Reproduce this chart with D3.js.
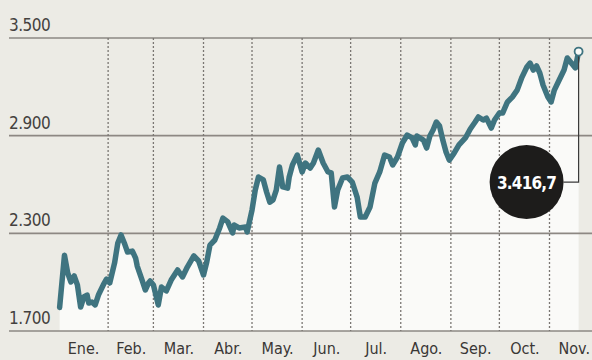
<!DOCTYPE html>
<html>
<head>
<meta charset="utf-8">
<script src="https://cdn.jsdelivr.net/npm/d3@7/dist/d3.min.js"></script>
<style>
  html, body { margin: 0; padding: 0; background: #ecebe5; }
  svg { display: block; }
  text { font-family: "Liberation Sans Narrow", "DejaVu Sans Condensed", sans-serif; }
</style>
</head>
<body>
<svg id="chart" width="592" height="360"></svg>
<script>
// Datos (indice, cierre diario aprox.)
var meses = ['Ene.', 'Feb.', 'Mar.', 'Abr.', 'May.', 'Jun.', 'Jul.', 'Ago.', 'Sep.', 'Oct.', 'Nov.'];
var ticksY = [1700, 2300, 2900, 3500];
var ultimoValor = 3416.7;

var fechas = [
  '01-02', '01-05', '01-07', '01-09', '01-11', '01-13', '01-15', '01-17', '01-19', '01-20',
  '01-22', '01-24', '01-26', '01-29', '01-31', '02-02', '02-05', '02-07', '02-09', '02-11',
  '02-13', '02-16', '02-18', '02-19', '02-22', '02-24', '02-26', '02-27', '03-01', '03-04',
  '03-06', '03-09', '03-12', '03-16', '03-19', '03-22', '03-26', '03-29', '04-01', '04-03',
  '04-05', '04-08', '04-11', '04-13', '04-16', '04-19', '04-20', '04-23', '04-27', '04-28',
  '05-01', '05-03', '05-05', '05-08', '05-10', '05-12', '05-14', '05-16', '05-18', '05-20',
  '05-23', '05-24', '05-26', '05-29', '06-01', '06-03', '06-06', '06-08', '06-11', '06-14',
  '06-17', '06-19', '06-21', '06-23', '06-26', '06-29', '07-02', '07-05', '07-07', '07-10',
  '07-13', '07-16', '07-19', '07-22', '07-25', '07-27', '07-30', '08-02', '08-05', '08-08',
  '08-10', '08-11', '08-15', '08-17', '08-19', '08-21', '08-23', '08-25', '08-27', '08-29',
  '08-31', '09-03', '09-06', '09-10', '09-13', '09-16', '09-18', '09-21', '09-23', '09-26',
  '09-28', '10-01', '10-03', '10-06', '10-09', '10-12', '10-15', '10-18', '10-20', '10-22',
  '10-24', '10-26', '10-28', '10-31', '11-02', '11-04', '11-07', '11-10', '11-12', '11-15',
  '11-17', '11-19'
];

var valores = [
  1845, 2165, 2056, 2001, 2038, 1983, 1847, 1909, 1921, 1872,
  1878, 1860, 1921, 1983, 2019, 1995, 2118, 2241, 2290, 2241,
  2185, 2191, 2148, 2099, 2013, 1952, 1995, 2007, 1983, 1860,
  1970, 1946, 2013, 2075, 2032, 2093, 2161, 2130, 2044, 2124,
  2228, 2259, 2333, 2394, 2370, 2302, 2351, 2333, 2339, 2308,
  2443, 2566, 2646, 2628, 2554, 2492, 2505, 2566, 2707, 2585,
  2578, 2646, 2720, 2781, 2677, 2732, 2701, 2732, 2812, 2732,
  2677, 2671, 2462, 2566, 2640, 2646, 2615, 2523, 2400, 2400,
  2462, 2609, 2677, 2781, 2769, 2720, 2769, 2855, 2904, 2886,
  2843, 2898, 2873, 2824, 2898, 2935, 2984, 2959, 2873, 2800,
  2750, 2793, 2843, 2886, 2941, 2984, 3015, 2996, 3008, 2947,
  2996, 3039, 3039, 3107, 3137, 3180, 3260, 3322, 3346, 3303,
  3328, 3285, 3211, 3137, 3107, 3180, 3242, 3303, 3377, 3340,
  3316, 3416.7
];

(function () {
  var anio = 2021;
  var parse = d3.timeParse('%Y-%m-%d');
  var data = fechas.map(function (f, i) {
    return { fecha: parse(anio + '-' + f), valor: valores[i] };
  });

  var es = d3.formatLocale({ decimal: ',', thousands: '.', grouping: [3], currency: ['$', ''] });
  var fmtEje = es.format(',.0f');
  var fmtDato = es.format(',.1f');

  var lineColor = '#3f7480';
  var gridColor = '#8d8883';

  var svg = d3.select('#chart');
  var m = { left: 9, right: 592, top: 38, bottom: 331 };

  var x = d3.scaleTime()
    .domain([new Date(anio, 0, 1), new Date(anio, 11, 1)])
    .range([58, 598]);

  var y = d3.scaleLinear()
    .domain([1700, 3500])
    .range([m.bottom, m.top]);

  // area blanca bajo la curva
  svg.append('path')
    .datum(data)
    .attr('fill', '#fafaf8')
    .attr('d', d3.area()
      .x(function (d) { return x(d.fecha); })
      .y0(y(1700))
      .y1(function (d) { return y(d.valor); }));

  // rejilla horizontal
  svg.append('g')
    .selectAll('line')
    .data(ticksY)
    .enter().append('line')
    .attr('x1', m.left)
    .attr('x2', m.right)
    .attr('y1', function (d) { return y(d); })
    .attr('y2', function (d) { return y(d); })
    .attr('stroke', gridColor)
    .attr('stroke-width', 1.6);

  // rejilla vertical punteada (inicio de cada mes)
  var inicios = d3.timeMonths(new Date(anio, 1, 1), new Date(anio, 10, 2));
  svg.append('g')
    .selectAll('line')
    .data(inicios)
    .enter().append('line')
    .attr('x1', function (d) { return x(d); })
    .attr('x2', function (d) { return x(d); })
    .attr('y1', m.top)
    .attr('y2', m.bottom)
    .attr('stroke', '#7a7672')
    .attr('stroke-width', 1.3)
    .attr('stroke-dasharray', '2,2');

  // etiquetas eje Y
  svg.append('g')
    .selectAll('text')
    .data(ticksY)
    .enter().append('text')
    .attr('x', m.left)
    .attr('y', function (d) { return y(d) - 7; })
    .attr('fill', '#44413e')
    .style('font-size', '17px')
    .style('letter-spacing', '-0.5px')
    .text(function (d) { return fmtEje(d); });

  // etiquetas de meses, centradas en cada mes
  var todos = d3.timeMonths(new Date(anio, 0, 1), new Date(anio, 10, 2));
  var ejeX = d3.axisBottom(x)
    .tickValues(todos.map(function (d) { return new Date(+d + (d3.timeMonth.offset(d, 1) - d) / 2); }))
    .tickSize(0)
    .tickFormat(function (d) { return meses[d.getMonth()]; });

  svg.append('g')
    .attr('transform', 'translate(0,' + (m.bottom + 9) + ')')
    .call(ejeX)
    .call(function (g) { g.select('.domain').remove(); })
    .selectAll('text')
    .attr('fill', '#3a3735')
    .style('font-size', '16px')
    .style('font-family', '"Liberation Sans Narrow", "DejaVu Sans Condensed", sans-serif');

  // linea
  svg.append('path')
    .datum(data)
    .attr('fill', 'none')
    .attr('stroke', lineColor)
    .attr('stroke-width', 5.5)
    .attr('stroke-linejoin', 'round')
    .attr('stroke-linecap', 'round')
    .attr('d', d3.line()
      .x(function (d) { return x(d.fecha); })
      .y(function (d) { return y(d.valor); }));

  // llamada del ultimo dato
  var last = data[data.length - 1];
  var lx = x(last.fecha), ly = y(last.valor);
  var cy = y(2615), cx = lx - 52, r = 37;

  svg.append('path')
    .attr('d', 'M' + lx + ',' + (ly + 4) + 'V' + cy + 'H' + (cx + r))
    .attr('fill', 'none')
    .attr('stroke', '#3a3a3a')
    .attr('stroke-width', 1.2);

  svg.append('circle')
    .attr('cx', lx)
    .attr('cy', ly)
    .attr('r', 4)
    .attr('fill', '#fafaf8')
    .attr('stroke', lineColor)
    .attr('stroke-width', 1.8);

  svg.append('circle')
    .attr('cx', cx)
    .attr('cy', cy)
    .attr('r', r)
    .attr('fill', '#1d1c1b');

  svg.append('text')
    .attr('x', cx)
    .attr('y', cy + 7)
    .attr('text-anchor', 'middle')
    .attr('fill', '#ffffff')
    .style('font-size', '17px')
    .style('letter-spacing', '-0.8px')
    .style('font-weight', 'bold')
    .text(fmtDato(ultimoValor));
})();
</script>
</body>
</html>
